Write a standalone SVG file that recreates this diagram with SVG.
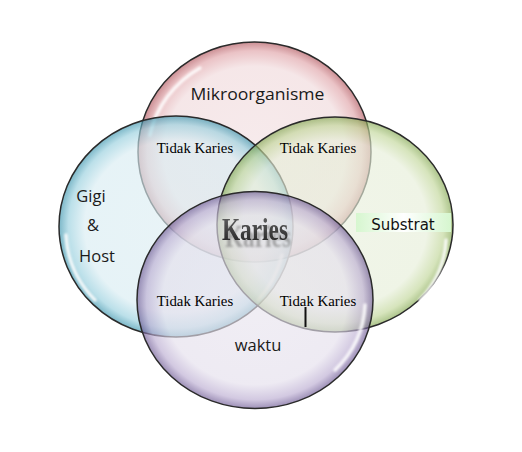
<svg xmlns="http://www.w3.org/2000/svg" width="522" height="452" viewBox="0 0 522 452">
<defs>
<radialGradient id="gRed" cx="0.5" cy="0.5" r="0.5">
<stop offset="0" stop-color="#f2dfe1"/><stop offset="0.78" stop-color="#f0d9db"/><stop offset="0.92" stop-color="#dfa1a6"/><stop offset="1" stop-color="#ad4e56"/>
</radialGradient>
<radialGradient id="gBlue" cx="0.5" cy="0.5" r="0.5">
<stop offset="0" stop-color="#dcedf2"/><stop offset="0.78" stop-color="#d8ecf2"/><stop offset="0.92" stop-color="#95cedd"/><stop offset="1" stop-color="#328fa9"/>
</radialGradient>
<radialGradient id="gGreen" cx="0.5" cy="0.5" r="0.5">
<stop offset="0" stop-color="#e8efdc"/><stop offset="0.78" stop-color="#e6eed8"/><stop offset="0.92" stop-color="#bfd596"/><stop offset="1" stop-color="#7ea34a"/>
</radialGradient>
<radialGradient id="gPurple" cx="0.5" cy="0.5" r="0.5">
<stop offset="0" stop-color="#e8e4ee"/><stop offset="0.78" stop-color="#e4dfec"/><stop offset="0.92" stop-color="#b9aad0"/><stop offset="1" stop-color="#67528f"/>
</radialGradient>
<linearGradient id="gSub" x1="0" y1="0" x2="1" y2="0">
<stop offset="0" stop-color="#d6f6cf"/><stop offset="0.5" stop-color="#ffffff"/><stop offset="1" stop-color="#d6f6cf"/>
</linearGradient>
<linearGradient id="gKar" x1="0" y1="0" x2="0" y2="1">
<stop offset="0" stop-color="#6a6a6a"/><stop offset="1" stop-color="#1e1e1e"/>
</linearGradient>
<filter id="blur" x="-20%" y="-20%" width="140%" height="140%"><feGaussianBlur stdDeviation="1.2"/></filter>
<filter id="shadow" x="-20%" y="-30%" width="140%" height="180%"><feDropShadow dx="3" dy="7" stdDeviation="1" flood-color="#777" flood-opacity="0.6"/></filter>
</defs>
<style>
.bub{fill-opacity:0.64;stroke:#2a2a2a;stroke-width:1.5}
.hl{fill:none;stroke:#ffffff;stroke-width:3.5;stroke-linecap:round;opacity:0.85}
.sans{font-family:"Open Sans","Noto Sans",sans-serif;font-size:16.5px;fill:#1a1a1a}
.serif{font-family:"Liberation Serif","Times New Roman",serif;font-size:14.8px;fill:#000}
</style>
<rect width="522" height="452" fill="#ffffff"/>
<g id="circles">
<g id="mikroorganisme"><ellipse class="bub" cx="254.5" cy="152" rx="116.5" ry="110" fill="url(#gRed)"/>
<path class="hl" filter="url(#blur)" d="M150,135 A108,102 0 0 1 200,68"/></g>
<g id="gigi-host"><ellipse class="bub" cx="176" cy="226.5" rx="117" ry="110.5" fill="url(#gBlue)"/>
<path class="hl" filter="url(#blur)" d="M66,235 A109,103 0 0 0 95,300"/>
<path class="hl" filter="url(#blur)" d="M282,255 A109,103 0 0 1 258,300"/></g>
<g id="substrat-c"><ellipse class="bub" cx="335" cy="224.5" rx="118" ry="107.5" fill="url(#gGreen)"/>
<path class="hl" filter="url(#blur)" d="M446,240 A110,100 0 0 1 420,300"/></g>
<g id="waktu-c"><ellipse class="bub" cx="255" cy="300" rx="118" ry="108.5" fill="url(#gPurple)"/>
<path class="hl" filter="url(#blur)" d="M365,305 A110,101 0 0 1 335,370"/></g>
</g>
<g id="labels">
<text class="sans" x="257.5" y="100" text-anchor="middle" textLength="134" lengthAdjust="spacingAndGlyphs">Mikroorganisme</text>
<text class="sans" x="91" y="202" text-anchor="middle">Gigi</text>
<text class="sans" x="93" y="231" text-anchor="middle">&amp;</text>
<text class="sans" x="97" y="262" text-anchor="middle">Host</text>
<rect x="356" y="213" width="95" height="19" fill="url(#gSub)"/>
<text x="403" y="230" text-anchor="middle" style="font-family:'DejaVu Sans',sans-serif;font-size:15px;fill:#111">Substrat</text>
<text class="sans" x="258" y="351" text-anchor="middle">waktu</text>
<text class="serif" x="195" y="153" text-anchor="middle">Tidak Karies</text>
<text class="serif" x="318" y="153" text-anchor="middle">Tidak Karies</text>
<text class="serif" x="195" y="306" text-anchor="middle">Tidak Karies</text>
<text class="serif" x="318" y="306" text-anchor="middle">Tidak Karies</text>
<text x="222" y="240" textLength="66" lengthAdjust="spacingAndGlyphs" filter="url(#shadow)" style="font-family:'Liberation Serif',serif;font-weight:bold;font-size:31px;fill:url(#gKar)">Karies</text>
</g>
<g id="connectors">
<line x1="305.5" y1="307" x2="305.5" y2="327" stroke="#111" stroke-width="2"/>
</g>
</svg>
